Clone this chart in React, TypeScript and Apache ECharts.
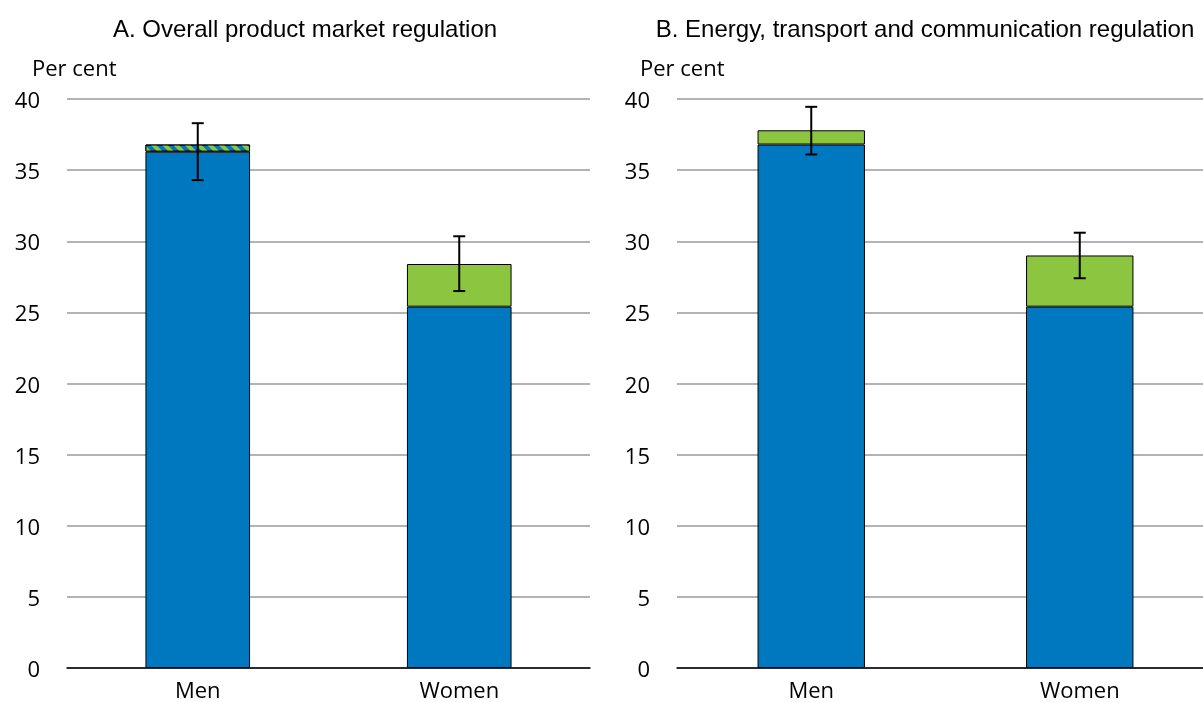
import React, { useEffect, useRef } from "react";
import * as echarts from "echarts";

const categories = ["Men", "Women"];
const panelTitles = ["A. Overall product market regulation", "B. Energy, transport and communication regulation"];
const yTicks = [0, 5, 10, 15, 20, 25, 30, 35, 40];

// Panel A
const blueA = [36.3, 25.4];
const hatchA = [0.5, 0];
const greenA = [0, 3.0];
const errLowA = [34.3, 26.5];
const errHighA = [38.3, 30.35];

// Panel B
const blueB = [36.8, 25.4];
const hatchB = [0, 0];
const greenB = [1.0, 3.6];
const errLowB = [36.1, 27.4];
const errHighB = [39.45, 30.6];

const BLUE = "#0078c0";
const GREEN = "#8cc640";
const AXIS_FONT = "'Open Sans', 'Noto Sans', sans-serif";
const TITLE_FONT = "'Liberation Sans', Arial, sans-serif";

export default function App() {
  const ref = useRef<HTMLDivElement>(null);
  useEffect(() => {
    if (!ref.current) return;
    const chart = echarts.init(ref.current, undefined, { renderer: "svg" });

    const errSeries = (idx: number, low: number[], high: number[]) => ({
      type: "custom",
      xAxisIndex: idx,
      yAxisIndex: idx,
      z: 10,
      data: categories.map((c, i) => [i, low[i], high[i]]),
      encode: { x: 0, y: [1, 2] },
      renderItem: (params: any, api: any) => {
        const x = api.value(0);
        const lo = api.coord([x, api.value(1)]);
        const hi = api.coord([x, api.value(2)]);
        const cx = lo[0];
        const hw = 6;
        const st = { stroke: "#000", lineWidth: 2 };
        return {
          type: "group",
          children: [
            { type: "line", shape: { x1: cx, y1: lo[1], x2: cx, y2: hi[1] }, style: st },
            { type: "line", shape: { x1: cx - hw, y1: lo[1], x2: cx + hw, y2: lo[1] }, style: st },
            { type: "line", shape: { x1: cx - hw, y1: hi[1], x2: cx + hw, y2: hi[1] }, style: st },
          ],
        };
      },
    });

    const barSeries = (idx: number, blue: number[], hatch: number[], green: number[]) => [
      {
        type: "bar",
        xAxisIndex: idx,
        yAxisIndex: idx,
        stack: "s" + idx,
        barWidth: "40%",
        data: blue,
        itemStyle: { color: BLUE, borderColor: "#000", borderWidth: 1 },
      },
      {
        type: "bar",
        xAxisIndex: idx,
        yAxisIndex: idx,
        stack: "s" + idx,
        barWidth: "40%",
        data: hatch.map((v) => (v > 0 ? v : null)),
        itemStyle: {
          color: BLUE,
          borderColor: "#000",
          borderWidth: 1,
          decal: {
            symbol: "rect",
            color: GREEN,
            dashArrayX: [1, 0],
            dashArrayY: [4, 4],
            rotation: Math.PI / 4,
          },
        },
      },
      {
        type: "bar",
        xAxisIndex: idx,
        yAxisIndex: idx,
        stack: "s" + idx,
        barWidth: "40%",
        data: green.map((v) => (v > 0 ? v : null)),
        itemStyle: { color: GREEN, borderColor: "#000", borderWidth: 1 },
      },
    ];

    const xAxis = (idx: number) => ({
      type: "category",
      gridIndex: idx,
      data: categories,
      axisLine: { lineStyle: { color: "#000", width: 1.5 } },
      axisTick: { show: false },
      axisLabel: { fontFamily: AXIS_FONT, fontSize: 22, lineHeight: 22, color: "#000", margin: 10 },
    });
    const yAxis = (idx: number) => ({
      type: "value",
      gridIndex: idx,
      min: yTicks[0],
      max: yTicks[yTicks.length - 1],
      interval: 5,
      axisLine: { show: false },
      axisTick: { show: false },
      splitLine: { lineStyle: { color: "#b3b3b3", width: 2 } },
      axisLabel: { fontFamily: AXIS_FONT, fontSize: 22, color: "#000", margin: 27 },
    });

    chart.setOption({
      animation: false,
      title: [
        {
          text: panelTitles[0],
          left: 300,
          top: 11,
          textAlign: "center",
          textStyle: { fontFamily: TITLE_FONT, fontSize: 24, fontWeight: "normal", color: "#000" },
        },
        {
          text: panelTitles[1],
          left: 920,
          top: 11,
          textAlign: "center",
          textStyle: { fontFamily: TITLE_FONT, fontSize: 24, fontWeight: "normal", color: "#000" },
        },
      ],
      graphic: [
        { type: "text", left: 32, top: 56, style: { text: "Per cent", font: `22px ${AXIS_FONT}`, fill: "#000" } },
        { type: "text", left: 640, top: 56, style: { text: "Per cent", font: `22px ${AXIS_FONT}`, fill: "#000" } },
      ],
      grid: [
        { left: 67, width: 523, top: 99, bottom: 35 },
        { left: 677, width: 537, top: 99, bottom: 35 },
      ],
      xAxis: [xAxis(0), xAxis(1)],
      yAxis: [yAxis(0), yAxis(1)],
      series: [
        ...barSeries(0, blueA, hatchA, greenA),
        ...barSeries(1, blueB, hatchB, greenB),
        errSeries(0, errLowA, errHighA),
        errSeries(1, errLowB, errHighB),
      ],
    });
    return () => chart.dispose();
  }, []);
  return <div ref={ref} style={{ position: "fixed", left: 0, top: 0, width: 1220, height: 703 }} />;
}
